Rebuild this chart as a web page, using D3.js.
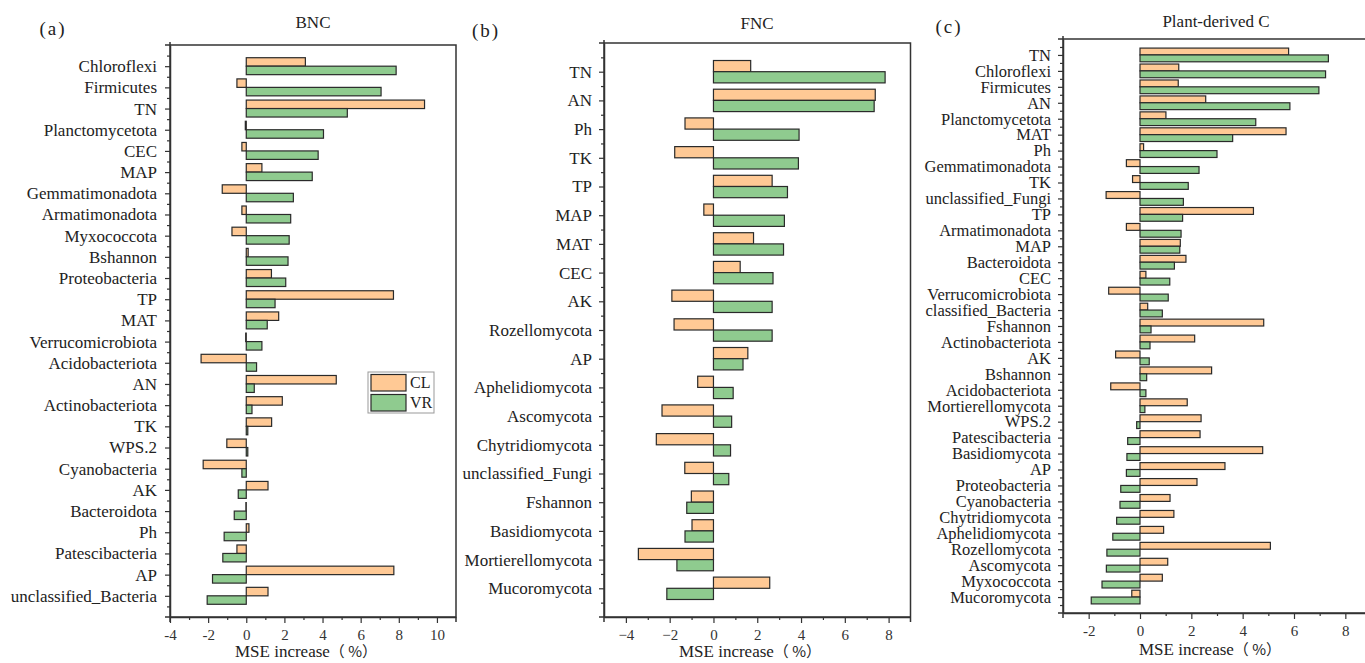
<html>
<head>
<meta charset="UTF-8">
<title>MSE increase</title>
<script src="https://cdn.jsdelivr.net/npm/d3@7"></script>
<style>
  html, body { margin: 0; background: #fff; overflow: hidden; }
  svg { display: block; }
  text { font-family: "Liberation Serif", "Times New Roman", serif; fill: #222; }
</style>
</head>
<body>
<div id="chart"></div>
<script>
// ---- data ----
// (a) BNC
const catsA = ["Chloroflexi", "Firmicutes", "TN", "Planctomycetota", "CEC", "MAP", "Gemmatimonadota",
  "Armatimonadota", "Myxococcota", "Bshannon", "Proteobacteria", "TP", "MAT", "Verrucomicrobiota",
  "Acidobacteriota", "AN", "Actinobacteriota", "TK", "WPS.2", "Cyanobacteria", "AK", "Bacteroidota",
  "Ph", "Patescibacteria", "AP", "unclassified_Bacteria"];
const clA = [3.1, -0.49, 9.35, -0.05, -0.23, 0.82, -1.26, -0.23, -0.75, 0.1, 1.32, 7.72, 1.7, -0.03,
  -2.37, 4.72, 1.89, 1.33, -1.02, -2.26, 1.14, -0.02, 0.14, -0.49, 7.74, 1.14];
const vrA = [7.86, 7.07, 5.3, 4.05, 3.77, 3.46, 2.47, 2.33, 2.25, 2.19, 2.07, 1.51, 1.1, 0.82,
  0.54, 0.42, 0.3, 0.08, 0.08, -0.23, -0.42, -0.63, -1.16, -1.23, -1.77, -2.05];

// (b) FNC
const catsB = ["TN", "AN", "Ph", "TK", "TP", "MAP", "MAT", "CEC", "AK", "Rozellomycota", "AP",
  "Aphelidiomycota", "Ascomycota", "Chytridiomycota", "unclassified_Fungi", "Fshannon",
  "Basidiomycota", "Mortierellomycota", "Mucoromycota"];
const clB = [1.7, 7.39, -1.3, -1.77, 2.68, -0.44, 1.83, 1.22, -1.9, -1.8, 1.57, -0.72, -2.35, -2.61,
  -1.31, -1.01, -0.98, -3.43, 2.57];
const vrB = [7.84, 7.34, 3.91, 3.88, 3.38, 3.24, 3.2, 2.72, 2.68, 2.68, 1.35, 0.9, 0.83, 0.78,
  0.7, -1.22, -1.3, -1.67, -2.13];

// (c) Plant-derived C
const catsC = ["TN", "Chloroflexi", "Firmicutes", "AN", "Planctomycetota", "MAT", "Ph",
  "Gemmatimonadota", "TK", "unclassified_Fungi", "TP", "Armatimonadota", "MAP", "Bacteroidota", "CEC",
  "Verrucomicrobiota", "classified_Bacteria", "Fshannon", "Actinobacteriota", "AK", "Bshannon",
  "Acidobacteriota", "Mortierellomycota", "WPS.2", "Patescibacteria", "Basidiomycota", "AP",
  "Proteobacteria", "Cyanobacteria", "Chytridiomycota", "Aphelidiomycota", "Rozellomycota",
  "Ascomycota", "Myxococcota", "Mucoromycota"];
const clC = [5.79, 1.51, 1.49, 2.56, 1.01, 5.69, 0.14, -0.53, -0.29, -1.32, 4.42, -0.53, 1.57, 1.79,
  0.23, -1.22, 0.3, 4.82, 2.13, -0.95, 2.79, -1.14, 1.84, 2.38, 2.34, 4.78, 3.31, 2.22, 1.17, 1.32,
  0.92, 5.08, 1.08, 0.87, -0.32];
const vrC = [7.34, 7.23, 6.97, 5.84, 4.51, 3.61, 3.0, 2.3, 1.88, 1.69, 1.66, 1.6, 1.55, 1.34, 1.16,
  1.1, 0.87, 0.43, 0.39, 0.36, 0.26, 0.23, 0.19, -0.13, -0.48, -0.51, -0.53, -0.75, -0.78, -0.91,
  -1.06, -1.29, -1.31, -1.48, -1.9];

const xTicksA = [-4, -2, 0, 2, 4, 6, 8, 10];
const xTicksB = [-4, -2, 0, 2, 4, 6, 8];
const xTicksC = [-2, 0, 2, 4, 6, 8];
const series = ["CL", "VR"];

const colors = { CL: "#ffc995", VR: "#8fcb8f" };
const serif = '"Liberation Serif", "Times New Roman", serif';

const W = 1365, H = 663;
const svg = d3.select("#chart").append("svg")
  .attr("width", W).attr("height", H)
  .attr("font-family", serif);

function panel(o) {
  const g = svg.append("g");
  const x = d3.scaleLinear().domain(o.xDomain).range([o.left, o.right]);
  const y = d3.scalePoint().domain(o.cats).range([o.top, o.bottom]).padding(o.pad);
  const bh = y.step() * o.barFrac;

  // bars: CL above the category tick, VR below
  [["CL", o.cl, -bh], ["VR", o.vr, 0]].forEach(([name, vals, off]) => {
    g.append("g").selectAll("rect")
      .data(o.cats)
      .join("rect")
      .attr("x", (d, i) => x(Math.min(0, vals[i])))
      .attr("y", d => y(d) + off)
      .attr("width", (d, i) => Math.abs(x(vals[i]) - x(0)))
      .attr("height", bh)
      .attr("fill", colors[name])
      .attr("stroke", "#2a2a2a")
      .attr("stroke-width", 1.2);
  });

  // x axis, major + minor ticks
  const xa = g.append("g")
    .attr("transform", "translate(0," + o.bottom + ")")
    .call(d3.axisBottom(x).tickValues(o.xTicks).tickSize(6).tickSizeOuter(0).tickPadding(6)
      .tickFormat(o.fmt));
  const minorX = o.xTicks.map(v => v + 1).concat([o.xTicks[0] - 1])
    .filter(v => v > o.xDomain[0] && v < o.xDomain[1]);
  g.append("g")
    .attr("transform", "translate(0," + o.bottom + ")")
    .call(d3.axisBottom(x).tickValues(minorX).tickSize(3).tickFormat(""))
    .select(".domain").remove();
  xa.attr("font-family", serif);
  xa.selectAll("text").style("font-size", "15px").style("fill", "#333");

  // y axis, major ticks at categories, minor between
  const ya = g.append("g")
    .attr("transform", "translate(" + o.left + ",0)")
    .call(d3.axisLeft(y).tickSize(5).tickSizeOuter(0).tickPadding(o.labelPad));
  ya.attr("font-family", serif);
  ya.selectAll("text").style("font-size", o.labelSize);
  const yi = d3.scaleLinear().domain([-o.pad, o.cats.length - 1 + o.pad]).range([o.top, o.bottom]);
  g.append("g")
    .attr("transform", "translate(" + o.left + ",0)")
    .call(d3.axisLeft(yi).tickValues(d3.range(-0.5, o.cats.length, 1)).tickSize(3).tickFormat(""))
    .select(".domain").remove();

  g.selectAll(".domain").attr("stroke", "#333").attr("stroke-width", 1.5);
  g.selectAll(".tick line").attr("stroke", "#333").attr("stroke-width", 1.2);

  // frame: top and right, plus the slightly overhanging axis lines
  g.append("path")
    .attr("d", "M" + (o.left - 5) + "," + o.top + "H" + o.right + (o.rightBorder ? "V" + (o.bottom + 5) : ""))
    .attr("fill", "none").attr("stroke", "#333").attr("stroke-width", 1.5);
  g.append("path")
    .attr("d", "M" + o.left + "," + (o.top - 3) + "V" + (o.bottom + 5) + "M" + (o.left - 5) + "," + o.bottom + "H" + o.right)
    .attr("fill", "none").attr("stroke", "#333").attr("stroke-width", 1.5);

  // titles and labels
  g.append("text").attr("x", o.titleX).attr("y", o.titleY)
    .attr("text-anchor", "middle").style("font-size", "17px").text(o.title);
  g.append("text").attr("x", o.tagX).attr("y", o.tagY)
    .attr("text-anchor", "middle").style("font-size", "19px").style("letter-spacing", "2px")
    .text(o.tag);
  const xl = g.append("text").attr("x", o.xLabelX).attr("y", o.xLabelY)
    .attr("text-anchor", "middle").style("font-size", "17px");
  xl.append("tspan").text("MSE increase");
  xl.append("tspan").style("font-family", '"Noto Sans CJK SC", sans-serif').style("font-size", "15px")
    .text("（ %）");
  return { g, x, y };
}

const pa = panel({
  cats: catsA, cl: clA, vr: vrA, xDomain: [-4, 11], xTicks: xTicksA, fmt: d => String(d),
  left: 170, right: 456, top: 45, bottom: 617, pad: 1, barFrac: 0.4, labelPad: 8, labelSize: "17px",
  rightBorder: true,
  title: "BNC", titleX: 313, titleY: 28, tag: "(a)", tagX: 53, tagY: 35,
  xLabelX: 306, xLabelY: 657
});

panel({
  cats: catsB, cl: clB, vr: vrB, xDomain: [-5, 9], xTicks: xTicksB, fmt: d3.format("d"),
  left: 604, right: 910.5, top: 43, bottom: 617, pad: 1, barFrac: 0.39, labelPad: 7, labelSize: "17px",
  rightBorder: true,
  title: "FNC", titleX: 757, titleY: 29, tag: "(b)", tagX: 486, tagY: 37,
  xLabelX: 750, xLabelY: 657
});

panel({
  cats: catsC, cl: clC, vr: vrC, xDomain: [-3, 9], xTicks: xTicksC, fmt: d => String(d),
  left: 1063, right: 1371, top: 39, bottom: 613, pad: 1, barFrac: 0.43, labelPad: 7, labelSize: "16.5px",
  rightBorder: false,
  title: "Plant-derived C", titleX: 1216, titleY: 27, tag: "(c)", tagX: 949, tagY: 33,
  xLabelX: 1210, xLabelY: 655
});

// legend in panel (a)
const lg = pa.g.append("g").attr("transform", "translate(368,372)");
lg.append("rect").attr("width", 66).attr("height", 41)
  .attr("fill", "#fff").attr("stroke", "#999").attr("stroke-width", 1);
series.forEach((s, i) => {
  lg.append("rect").attr("x", 3).attr("y", 2.5 + i * 20).attr("width", 35).attr("height", 16.5)
    .attr("fill", colors[s]).attr("stroke", "#2a2a2a").attr("stroke-width", 1.2);
  lg.append("text").attr("x", 42).attr("y", 16 + i * 20).style("font-size", "16px").text(s);
});
</script>
</body>
</html>
